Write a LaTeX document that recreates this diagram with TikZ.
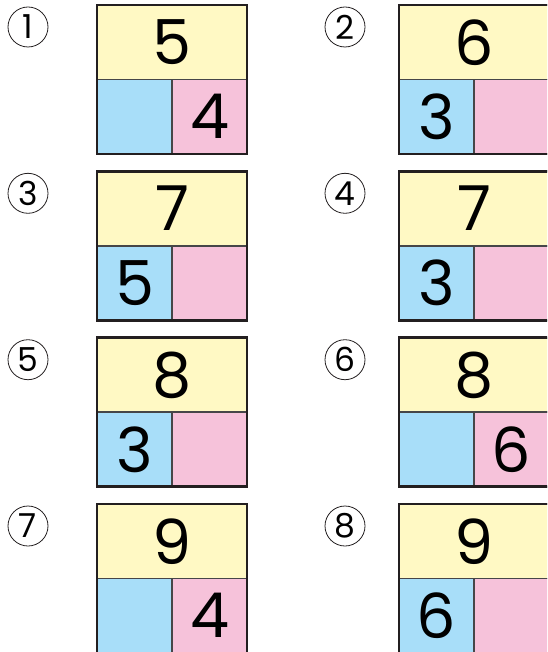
\documentclass[tikz,border=0pt]{standalone}
\usepackage{fontspec}
\setmainfont{Poppins}
\usepackage{tikz}
\usetikzlibrary{positioning}
\definecolor{ink}{RGB}{35,31,32}
\definecolor{rule}{RGB}{70,70,72}
\definecolor{sumyellow}{RGB}{255,249,196}
\definecolor{partblue}{RGB}{168,222,249}
\definecolor{partpink}{RGB}{246,194,218}
\newcommand{\bigdigit}{\fontsize{62}{62}\selectfont}

\begin{document}
\begin{tikzpicture}[x=1pt,y=-1pt,
    cell/.style={draw=rule,line width=1.6pt,inner sep=0pt,outer sep=0pt,anchor=north west},
    total/.style={cell,fill=sumyellow,minimum width=150pt,minimum height=74.5pt,font=\bigdigit},
    part/.style={cell,minimum width=75pt,minimum height=74.5pt,font=\bigdigit},
    numtag/.style={draw=ink,line width=0.8pt,circle,minimum size=40pt,inner sep=0pt,font=\fontsize{33}{33}\selectfont}]
  \useasboundingbox (0,0) rectangle (547,652);
  \clip (0,0) rectangle (547,652);
  % one sum box per exercise: number/tag x/box x/row y/total/left part/right part
  \foreach \n/\tx/\bx/\by/\tot/\lp/\rp in {1/28/97/5/5//4, 2/345/399/5/6/3/, 3/28/97/171.3/7/5/, 4/345/399/171.3/7/3/,
      5/28/97/337.7/8/3/, 6/345/399/337.7/8//6, 7/28/97/504/9//4, 8/345/399/504/9/6/} {
    \node[numtag] (tag\n) at (\tx,\by+22) {\n};
    \node[total] (tot\n) at (\bx,\by) {\tot};
    \node[part,fill=partblue,below=0pt of tot\n.south west,anchor=north west] (lft\n) {\lp};
    \node[part,fill=partpink,right=0pt of lft\n.north east,anchor=north west] (rgt\n) {\rp};
    \draw[ink,line width=2.6pt] (tot\n.north west) rectangle (rgt\n.south east);
  }
\end{tikzpicture}
\end{document}
